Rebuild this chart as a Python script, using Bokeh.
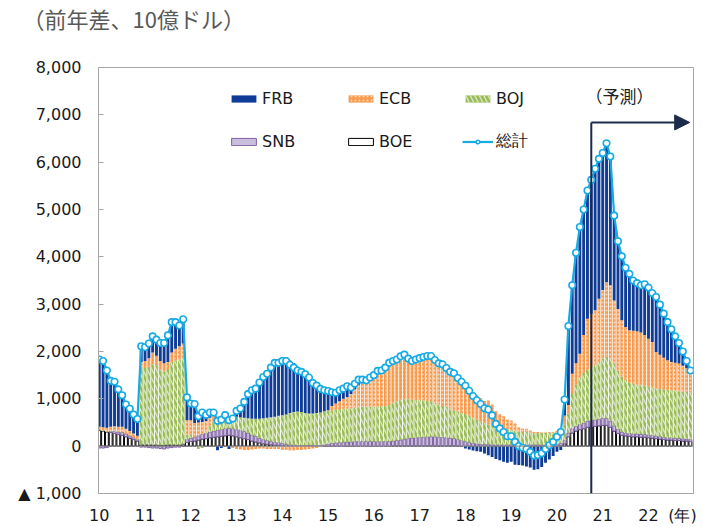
from bokeh.plotting import figure
from bokeh.models import (ColumnDataSource, Range1d, FixedTicker, Span, Label,
                          Legend, LegendItem, Arrow, NormalHead)
from bokeh.embed import file_html
from bokeh.resources import INLINE

# ---------------- data (monthly, Jan-2010 .. Dec-2022, 10億ドル, 前年差) ----------------
YEAR_LABELS = ["10", "11", "12", "13", "14", "15", "16", "17", "18", "19", "20", "21", "22"]
YEAR_UNIT = "(年)"
Y_TICKS = [-1000, 0, 1000, 2000, 3000, 4000, 5000, 6000, 7000, 8000]
Y_TICK_LABELS = ["▲ 1,000", "0", "1,000", "2,000", "3,000", "4,000", "5,000", "6,000", "7,000", "8,000"]

TOTAL = [
    1830, 1800, 1600, 1380, 1360, 1200, 1075, 880, 790, 670, 575, 2110,
    2090, 2170, 2320, 2250, 2180, 2180, 2340, 2620, 2620, 2550, 2680, 1030,
    900, 890, 630, 710, 660, 710, 710, 535, 560, 655, 550, 585,
    745, 795, 935, 1100, 1180, 1215, 1345, 1460, 1530, 1660, 1760, 1760,
    1800, 1800, 1720, 1660, 1600, 1570, 1520, 1450, 1335, 1280, 1210, 1180,
    1165, 1140, 1130, 1180, 1215, 1265, 1240, 1320, 1405, 1405, 1390, 1450,
    1500, 1590, 1600, 1660, 1760, 1800, 1830, 1900, 1935, 1850, 1800, 1830,
    1860, 1885, 1905, 1905, 1820, 1750, 1730, 1650, 1570, 1540, 1440, 1360,
    1275, 1170, 1060, 970, 890, 800, 775, 650, 470, 375, 300, 210,
    210, 90, 0, -35, -60, -120, -200, -190, -150, -60, 20, 90,
    200, 300, 985, 2540, 3400, 4085, 4630, 5000, 5400, 5625, 5860, 6070,
    6195, 6400, 6120, 4870, 4330, 4010, 3770, 3640, 3500, 3445, 3400, 3420,
    3350, 3235, 3150, 2990, 2800, 2620, 2470, 2320, 2180, 2000, 1800, 1600,
]

FRB = [
    1460, 1440, 1240, 970, 940, 790, 665, 510, 470, 400, 355, 350,
    310, 340, 380, 380, 430, 490, 600, 670, 580, 460, 510, 480,
    350, 400, 190, 240, 130, 110, 40, -85, -40, 45, -60, -5,
    185, 255, 415, 590, 670, 695, 815, 920, 990, 1110, 1200, 1180,
    1225, 1210, 1110, 1030, 950, 930, 890, 820, 695, 620, 520, 440,
    405, 290, 230, 230, 215, 225, 140, 120, 105, 65, 20, 20,
    10, 10, 0, 0, 0, 0, 0, 0, 0, 0, 0, 0,
    0, 0, 0, 0, 0, 0, 0, 0, 0, 0, 0, 0,
    -50, -70, -90, -110, -120, -155, -190, -230, -270, -300, -330, -350,
    -330, -390, -400, -410, -430, -450, -500, -490, -440, -350, -280, -210,
    -120, -80, 335, 1670, 1870, 2335, 2675, 2650, 2710, 2825, 2990, 2955,
    2895, 2935, 2720, 1790, 1430, 1350, 1250, 1190, 1060, 1015, 1000, 1070,
    1080, 1035, 1160, 1060, 930, 805, 690, 560, 435, 300, 150, 20,
]

ECB = [
    70, 70, 80, 90, 100, 100, 110, 100, 90, 80, 70, 150,
    150, 180, 250, 200, 180, 170, 150, 200, 250, 280, 300, 310,
    300, 300, 280, 260, 220, 180, 150, 80, 60, 30, 10, -30,
    -60, -70, -80, -80, -70, -60, -50, -50, -60, -60, -60, -60,
    -80, -80, -90, -90, -80, -80, -70, -60, -50, -40, -20, 0,
    10, 90, 130, 170, 210, 245, 300, 390, 480, 510, 550, 600,
    660, 740, 750, 810, 890, 880, 880, 920, 935, 860, 820, 860,
    880, 915, 945, 955, 900, 870, 880, 820, 770, 780, 710, 660,
    645, 600, 550, 520, 490, 465, 505, 440, 320, 285, 250, 200,
    200, 160, 90, 75, 70, 40, 20, 20, 10, 10, 10, 10,
    20, 50, 200, 180, 430, 450, 505, 800, 1070, 1120, 1150, 1335,
    1450, 1575, 1550, 1330, 1300, 1190, 1120, 1100, 1120, 1130, 1100, 1070,
    1010, 960, 770, 720, 670, 625, 600, 590, 585, 550, 505, 440,
]

BOJ = [
    10, 10, 10, 10, 10, 10, 10, 10, 10, 10, 10, 1600,
    1620, 1650, 1700, 1680, 1600, 1560, 1600, 1750, 1780, 1800, 1820, 100,
    80, 0, -60, -40, 40, 120, 200, 200, 190, 210, 220, 250,
    270, 280, 290, 310, 340, 370, 410, 450, 480, 510, 540, 560,
    595, 630, 670, 690, 710, 700, 680, 670, 670, 680, 690, 710,
    710, 700, 700, 700, 710, 705, 710, 710, 720, 730, 720, 730,
    730, 740, 750, 750, 770, 810, 830, 850, 850, 830, 810, 790,
    790, 780, 760, 750, 720, 690, 660, 650, 630, 600, 590, 580,
    580, 560, 540, 510, 480, 450, 420, 410, 390, 360, 350, 330,
    310, 290, 280, 270, 270, 260, 250, 250, 250, 250, 260, 260,
    260, 270, 330, 410, 730, 880, 990, 1060, 1090, 1140, 1160, 1210,
    1260, 1300, 1320, 1320, 1240, 1170, 1120, 1080, 1060, 1040, 1050, 1030,
    1020, 1015, 1005, 1010, 1010, 1010, 1000, 1005, 995, 995, 995, 1000,
]

SNB = [
    -40, -40, -30, 20, 40, 50, 60, 60, 50, 40, 30, -20,
    -20, -30, -40, -40, -50, -60, -40, -30, -20, -20, 20, 60,
    70, 80, 90, 100, 110, 120, 130, 140, 140, 150, 150, 150,
    150, 150, 150, 140, 130, 120, 100, 90, 80, 70, 60, 60,
    50, 40, 30, 30, 20, 20, 20, 20, 20, 20, 20, 30,
    40, 60, 70, 80, 80, 90, 90, 100, 100, 100, 100, 100,
    100, 100, 100, 100, 100, 100, 110, 120, 140, 150, 160, 170,
    180, 180, 190, 190, 190, 180, 180, 170, 160, 150, 130, 120,
    100, 80, 60, 50, 40, 40, 40, 30, 30, 30, 30, 30,
    30, 30, 30, 30, 30, 30, 30, 30, 30, 30, 30, 30,
    40, 50, 70, 80, 90, 100, 110, 120, 130, 130, 140, 140,
    150, 150, 130, 110, 90, 70, 60, 60, 60, 60, 60, 60,
    60, 55, 55, 50, 50, 50, 50, 45, 45, 45, 40, 40,
]

BOE = [
    330, 320, 300, 290, 270, 250, 230, 200, 170, 140, 110, 30,
    30, 30, 30, 30, 20, 20, 30, 30, 30, 30, 30, 80,
    100, 110, 130, 150, 160, 180, 190, 200, 210, 220, 230, 220,
    200, 180, 160, 140, 110, 90, 70, 50, 40, 30, 20, 20,
    10, 0, 0, 0, 0, 0, 0, 0, 0, 0, 0, 0,
    0, 0, 0, 0, 0, 0, 0, 0, 0, 0, 0, 0,
    0, 0, 0, 0, 0, 10, 10, 10, 10, 10, 10, 10,
    10, 10, 10, 10, 10, 10, 10, 10, 10, 10, 10, 0,
    0, 0, 0, 0, 0, 0, 0, 0, 0, 0, 0, 0,
    0, 0, 0, 0, 0, 0, 0, 0, 0, 0, 0, 0,
    0, 10, 50, 200, 280, 320, 350, 370, 400, 410, 420, 430,
    440, 440, 400, 320, 270, 230, 220, 210, 200, 200, 190, 190,
    180, 170, 160, 150, 140, 130, 130, 120, 120, 110, 110, 100,
]

# ---------------- annotation positions ----------------
FORECAST_X = 129.0     # month index where the forecast starts
ARROW_Y = 6840
ARROW_END_X = 154.8
YEAR_UNIT_X = 152.9    # axis position of the "(年)" unit label

months = list(range(len(TOTAL)))

p = figure(frame_width=595, frame_height=426,
           x_range=Range1d(-0.2, 155.8), y_range=Range1d(-1000, 8000),
           output_backend="svg", toolbar_location=None,
           min_border_left=98, min_border_right=10, min_border_top=67, min_border_bottom=34,
           background_fill_color="white", border_fill_color="white")
p.outline_line_color = "#A6A6A6"
p.xgrid.visible = False
p.ygrid.visible = False

# a trailing blank line lifts the title toward the top of its band
p.title.text = "（前年差、10億ドル）\n "
p.title.text_font = "Noto Sans CJK JP"
p.title.text_font_size = "22px"
p.title.text_font_style = "normal"
p.title.text_color = "#595959"
p.title.align = "left"
p.title.vertical_align = "top"
p.title.offset = -76
p.title.standoff = 0

# ---------------- stacked bars (positives up, negatives down) ----------------
series = [
    ("BOE", BOE, dict(fill_color="white", line_color="black", line_width=1)),
    ("SNB", SNB, dict(fill_color="#C9BEDD", line_color="#7F62A1", line_width=1)),
    ("BOJ", BOJ, dict(fill_color="#9BBB59", line_color=None, hatch_pattern="left_diagonal_line",
                      hatch_color="#D9E6C0", hatch_scale=9, hatch_weight=1.4)),
    ("ECB", ECB, dict(fill_color="#F79A4E", line_color=None, hatch_pattern="dot",
                      hatch_color="#FCD9BC", hatch_scale=4, hatch_weight=1)),
    ("FRB", FRB, dict(fill_color="#0E3C96", line_color=None)),
]

pos_base = [0.0] * len(months)
neg_base = [0.0] * len(months)
bar_renderers = {}
for name, vals, style in series:
    bottoms, tops = [], []
    for i, v in enumerate(vals):
        if v >= 0:
            bottoms.append(pos_base[i]); tops.append(pos_base[i] + v); pos_base[i] += v
        else:
            tops.append(neg_base[i]); bottoms.append(neg_base[i] + v); neg_base[i] += v
    src = ColumnDataSource(dict(x=months, bottom=bottoms, top=tops))
    bar_renderers[name] = p.vbar(x="x", bottom="bottom", top="top", width=0.76, source=src, **style)

p.add_layout(Span(location=0, dimension="width", line_color="#8C8C8C", line_width=1))

# ---------------- total line ----------------
tsrc = ColumnDataSource(dict(x=months, y=TOTAL))
tot_line = p.line("x", "y", source=tsrc, line_color="#17ABE6", line_width=2.2)
tot_pts = p.scatter("x", "y", source=tsrc, marker="circle", size=6.5, fill_color="white",
                    line_color="#17ABE6", line_width=1.6)

# ---------------- forecast arrow ----------------
navy = "#1C2B4A"
p.add_layout(Arrow(end=None, x_start=FORECAST_X, y_start=-1000, x_end=FORECAST_X, y_end=ARROW_Y,
                   line_color=navy, line_width=2))
p.add_layout(Arrow(end=NormalHead(size=15, fill_color=navy, line_color=navy),
                   x_start=FORECAST_X, y_start=ARROW_Y, x_end=ARROW_END_X, y_end=ARROW_Y,
                   line_color=navy, line_width=2))
p.add_layout(Label(x=136.4, y=7400, text="（予測）", text_align="center", text_baseline="middle",
                   text_font="Noto Sans CJK JP", text_font_size="17px", text_color="#222222"))

# ---------------- axes ----------------
p.yaxis.ticker = FixedTicker(ticks=Y_TICKS)
p.yaxis.major_label_overrides = {t: l for t, l in zip(Y_TICKS, Y_TICK_LABELS)}
x_ticks = [12 * i for i in range(len(YEAR_LABELS))]
x_labels = {12 * i: l for i, l in enumerate(YEAR_LABELS)}
x_labels[YEAR_UNIT_X] = YEAR_UNIT
p.xaxis.ticker = FixedTicker(ticks=x_ticks + [YEAR_UNIT_X])
p.xaxis.major_label_overrides = x_labels
for ax in (p.xaxis, p.yaxis):
    ax.axis_line_color = "#A6A6A6"
    ax.major_tick_line_color = "#A6A6A6"
    ax.minor_tick_line_color = None
    ax.major_label_text_font = "DejaVu Sans"
    ax.major_label_text_font_size = "16px"
    ax.major_label_text_color = "#1A1A1A"
p.yaxis.major_tick_in = 5
p.yaxis.major_tick_out = 0
p.yaxis.major_label_standoff = 17
p.xaxis.major_tick_in = 0
p.xaxis.major_tick_out = 0
p.xaxis.major_label_standoff = 12

# ---------------- legend (2 rows x 3) ----------------
common = dict(orientation="horizontal", glyph_width=31, glyph_height=9, label_standoff=3,
              label_width=79, spacing=4, padding=0, margin=0, border_line_color=None,
              background_fill_alpha=0, label_text_font="DejaVu Sans", label_text_font_size="16px",
              label_text_color="#1A1A1A", label_height=20)
leg1 = Legend(items=[LegendItem(label="FRB", renderers=[bar_renderers["FRB"]]),
                     LegendItem(label="ECB", renderers=[bar_renderers["ECB"]]),
                     LegendItem(label="BOJ", renderers=[bar_renderers["BOJ"]])],
              location=(130, 385), **common)
leg2 = Legend(items=[LegendItem(label="SNB", renderers=[bar_renderers["SNB"]]),
                     LegendItem(label="BOE", renderers=[bar_renderers["BOE"]]),
                     LegendItem(label="総計", renderers=[tot_line, tot_pts])],
              location=(130, 341), **common)
p.add_layout(leg1, "center")
p.add_layout(leg2, "center")

open("out.html", "w").write(file_html(p, INLINE))
